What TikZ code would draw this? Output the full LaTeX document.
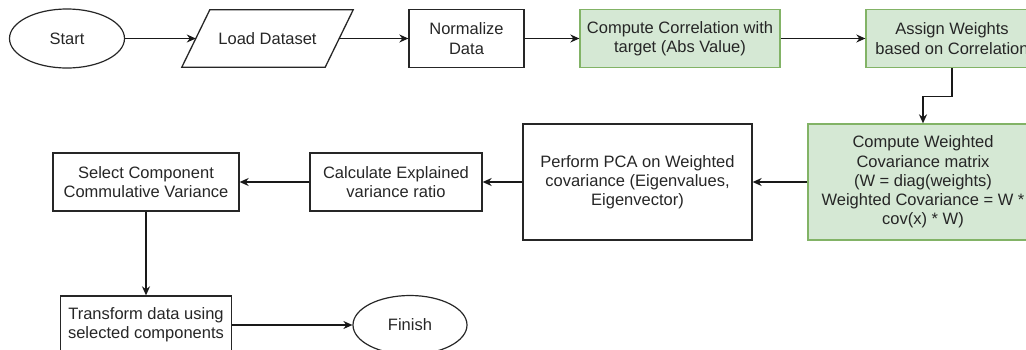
\documentclass[tikz,border=0pt]{standalone}
\usepackage{fontspec}
\setmainfont{Liberation Sans}
\usetikzlibrary{arrows.meta,shapes.geometric}
\definecolor{boxgreen}{HTML}{D5E8D4}
\definecolor{boxgreenline}{HTML}{82B366}

\begin{document}
\begin{tikzpicture}[x=1pt,y=-1pt,
  every node/.style={font=\fontsize{16.5}{19.2}\selectfont, text=black!85, align=center, inner sep=2pt},
  box/.style={draw=black!85, line width=1.3pt, rectangle, minimum height=58pt},
  greenbox/.style={box, draw=boxgreenline, fill=boxgreen},
  term/.style={draw=black!85, line width=1.2pt, ellipse, minimum height=59pt},
  arr/.style={-{Stealth[length=9pt,width=8pt]}, line width=1.3pt, black!90}]
  \useasboundingbox (0,0) rectangle (1026,349);
  % top row
  \node[term, minimum width=115pt] (start) at (67,38.5) {Start};
  \node[minimum width=143pt, minimum height=57pt] (load) at (267.5,38.5) {Load Dataset};
  \draw[line width=1.3pt, black!85] ([xshift=14pt]load.north west) -- ([xshift=14pt]load.north east)
    -- ([xshift=-14pt]load.south east) -- ([xshift=-14pt]load.south west) -- cycle;
  \node[box, minimum width=115pt] (norm) at (466.5,38.5) {Normalize\\Data};
  \node[greenbox, minimum width=200pt] (corr) at (680,38.5) {Compute Correlation with\\target (Abs Value)};
  \node[greenbox, minimum width=172pt] (assign) at (952,38.5) {Assign Weights\\based on Correlation};
  % middle row
  \node[greenbox, minimum width=230pt, minimum height=116pt] (wcov) at (923,182)
    {Compute Weighted\\Covariance matrix\\(W = diag(weights)\\Weighted Covariance = W *\\cov(x) * W)};
  \node[box, minimum width=229pt, minimum height=116pt] (pca) at (637.5,182)
    {Perform PCA on Weighted\\covariance (Eigenvalues,\\Eigenvector)};
  \node[box, minimum width=172pt] (calc) at (396,182) {Calculate Explained\\variance ratio};
  \node[box, minimum width=186pt] (select) at (146,182) {Select Component\\Commulative Variance};
  % bottom row
  \node[box, minimum width=171pt] (transform) at (146,325) {Transform data using\\selected components};
  \node[term, minimum width=114pt] (finish) at (410,325) {Finish};

  \draw[arr] (start) -- (load);
  \draw[arr] (load) -- (norm);
  \draw[arr] (norm) -- (corr);
  \draw[arr] (corr) -- (assign);
  \draw[arr] (assign.south) -- ++(0,28.5) -| (wcov.north);
  \draw[arr] (wcov) -- (pca);
  \draw[arr] (pca) -- (calc);
  \draw[arr] (calc) -- (select);
  \draw[arr] (select) -- (transform);
  \draw[arr] (transform) -- (finish);
\end{tikzpicture}
\end{document}
